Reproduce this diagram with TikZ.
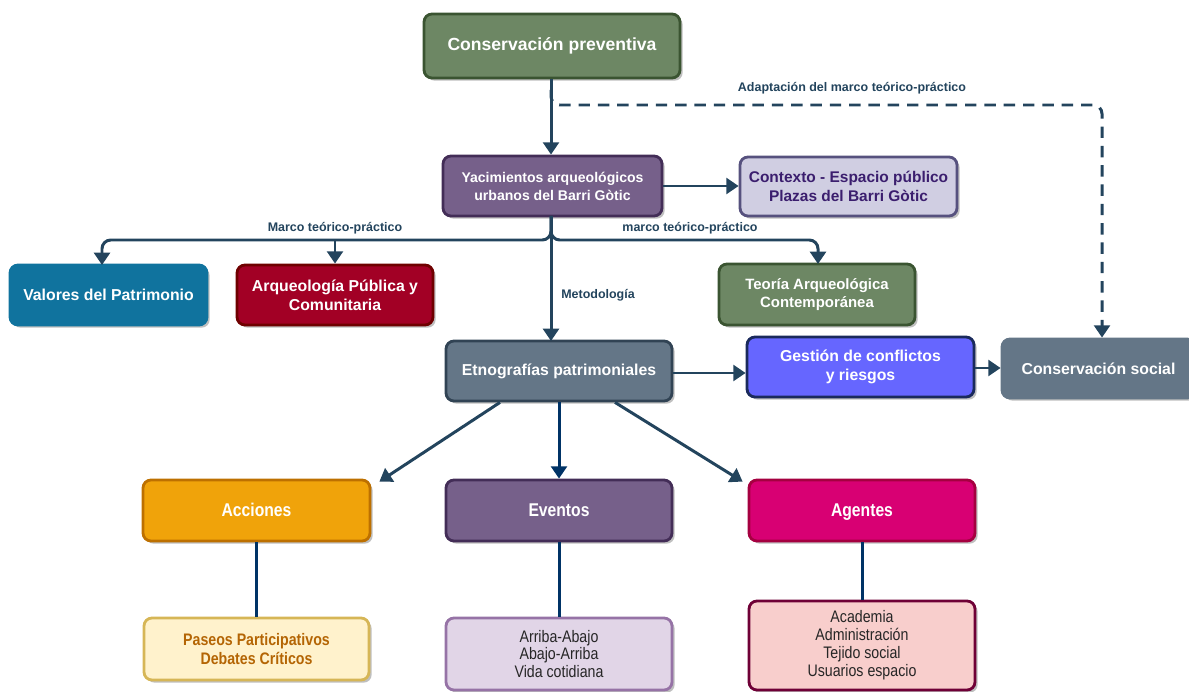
\documentclass[tikz,border=0pt]{standalone}
\usepackage{fontspec}
\setmainfont{Liberation Sans}
\newfontfamily\condf{Liberation Sans}[FakeStretch=0.85]
\usetikzlibrary{arrows.meta,shadows,calc}
\definecolor{lc}{HTML}{23445D}
\definecolor{lnavy}{HTML}{003366}
\definecolor{gfill}{HTML}{6D8764}\definecolor{gbord}{HTML}{3A5431}
\definecolor{pfill}{HTML}{76608A}\definecolor{pbord}{HTML}{432D57}
\definecolor{cfill}{HTML}{D0CEE2}\definecolor{cbord}{HTML}{56517E}\definecolor{ctext}{HTML}{3B1E6E}
\definecolor{vfill}{HTML}{10739E}
\definecolor{rfill}{HTML}{A20025}\definecolor{rbord}{HTML}{6F0000}
\definecolor{sfill}{HTML}{647687}\definecolor{sbord}{HTML}{314354}
\definecolor{bfill}{HTML}{6666FF}\definecolor{bbord}{HTML}{1A2A5C}
\definecolor{ofill}{HTML}{F0A30A}\definecolor{obord}{HTML}{BD7000}
\definecolor{mfill}{HTML}{D80073}\definecolor{mbord}{HTML}{A50040}
\definecolor{yfill}{HTML}{FFF2CC}\definecolor{ybord}{HTML}{D6B656}\definecolor{ytext}{HTML}{B46504}
\definecolor{lfill}{HTML}{E1D5E7}\definecolor{lbord}{HTML}{9673A6}
\definecolor{kfill}{HTML}{F8CECC}\definecolor{kbord}{HTML}{6F0036}
\tikzset{
  box/.style={draw, line width=1.6pt, rounded corners=4.5pt, align=center,
    text=white, font=\bfseries\fontsize{9}{11}\selectfont,
    drop shadow={shadow xshift=1.5pt,shadow yshift=-1.5pt,opacity=0.25,fill=black}},
  ln/.style={draw=lc, line width=1.7pt},
  arr/.style={ln, -{Triangle[width=9pt,length=7pt]}},
  lab/.style={font=\bfseries\fontsize{7.1}{8}\selectfont, text=lc},
  botf/.style={font=\condf\bfseries\fontsize{10.5}{12}\selectfont, text height=1.6ex, text depth=0.3ex},
  lowf/.style={font=\condf\fontsize{9.5}{10.2}\selectfont}
}
\begin{document}
\begin{tikzpicture}[x=0.02cm,y=-0.02cm]
\useasboundingbox (0,0) rectangle (1189,692);
% nodes
\node[box, fill=gfill, draw=gbord, minimum width=5.12cm, minimum height=1.28cm, font=\bfseries\fontsize{10}{12}\selectfont] (cp) at (552,46) {Conservación preventiva};
\node[box, fill=pfill, draw=pbord, minimum width=4.38cm, minimum height=1.2cm, font=\bfseries\fontsize{8}{10.2}\selectfont] (yac) at (552.5,186) {Yacimientos arqueológicos\\urbanos del Barri Gòtic};
\node[box, fill=cfill, draw=cbord, text=ctext, minimum width=4.34cm, minimum height=1.18cm, font=\bfseries\fontsize{8.8}{10.8}\selectfont] (ctx) at (848.5,186.5) {Contexto - Espacio público\\Plazas del Barri Gòtic};
\node[box, fill=vfill, draw=vfill, minimum width=3.94cm, minimum height=1.2cm] (val) at (108.5,295) {Valores del Patrimonio};
\node[box, fill=rfill, draw=rbord, minimum width=3.92cm, minimum height=1.2cm] (arq) at (335,295) {Arqueología Pública y\\Comunitaria};
\node[box, fill=gfill, draw=gbord, minimum width=3.92cm, minimum height=1.22cm, font=\bfseries\fontsize{8.5}{10.5}\selectfont] (teo) at (817,294.5) {Teoría Arqueológica\\Contemporánea};
\node[box, fill=sfill, draw=sbord, minimum width=4.52cm, minimum height=1.2cm] (etn) at (559,371) {Etnografías patrimoniales};
\node[box, fill=bfill, draw=bbord, minimum width=4.54cm, minimum height=1.2cm] (ges) at (860.5,367) {Gestión de conflictos\\y riesgos};
\node[box, fill=sfill, draw=sfill, minimum width=3.86cm, minimum height=1.18cm] (cs) at (1098.5,368.5) {Conservación social};
\node[box, botf, fill=ofill, draw=obord, minimum width=4.54cm, minimum height=1.22cm] (acc) at (256.5,510.5) {Acciones};
\node[box, botf, fill=pfill, draw=pbord, minimum width=4.52cm, minimum height=1.22cm] (eve) at (559,510.5) {Eventos};
\node[box, botf, fill=mfill, draw=mbord, minimum width=4.52cm, minimum height=1.22cm] (age) at (862,510.5) {Agentes};
\node[box, fill=yfill, draw=ybord, text=ytext, minimum width=4.5cm, minimum height=1.24cm, font=\condf\bfseries\fontsize{9.5}{10.5}\selectfont] (pas) at (256.5,649) {Paseos Participativos\\Debates Críticos};
\node[box, lowf, fill=lfill, draw=lbord, text=black!85, minimum width=4.52cm, minimum height=1.44cm] (arr) at (559,654) {Arriba-Abajo\\Abajo-Arriba\\Vida cotidiana};
\node[box, lowf, fill=kfill, draw=kbord, text=black!85, minimum width=4.52cm, minimum height=1.78cm] (aca) at (862,645.5) {Academia\\Administración\\Tejido social\\Usuarios espacio};
% helper coordinates
\coordinate (dB) at (1102,105);
% connectors
\draw[arr] (cp.south -| 551,0) -- (yac.north -| 551,0);
\draw[arr, dash pattern=on 6.5pt off 4.5pt, rounded corners=5pt] (551,90) |- (dB) -- (dB |- cs.north);
\node[lab] (l1) at (852,88) {Adaptación del marco teórico-práctico};
\draw[arr] (yac.east) -- (yac.east -| ctx.west);
\draw[arr, rounded corners=5pt] (551,216) -- (551,240) -| (102,265);
\draw[arr, rounded corners=5pt] (551,216) -- (551,240) -| (818,264);
\draw[arr] (335,240) -- (arq.north);
\draw[arr] (551,216) -- (551,341);
\node[lab] (l2) at (335,228) {Marco teórico-práctico};
\node[lab] (l3) at (690,228) {marco teórico-práctico};
\node[lab] (l4) at (598,295) {Metodología};
\draw[arr] (etn.east |- 0,373) -- (ges.west |- 0,373);
\draw[arr] (ges.east |- 0,368) -- (cs.west |- 0,368);
\draw[arr] ($(etn.south)+(-59,0)$) -- ($(acc.north east)+(8,3)$);
\draw[arr, draw=lnavy] (etn.south) -- (eve.north);
\draw[arr] ($(etn.south)+(56,0)$) -- ($(age.north west)+(-5,3)$);
\draw[ln, draw=lnavy] (acc.south) -- (pas.north);
\draw[ln, draw=lnavy] (eve.south) -- (arr.north);
\draw[ln, draw=lnavy] (age.south) -- (aca.north);
\end{tikzpicture}
\end{document}
